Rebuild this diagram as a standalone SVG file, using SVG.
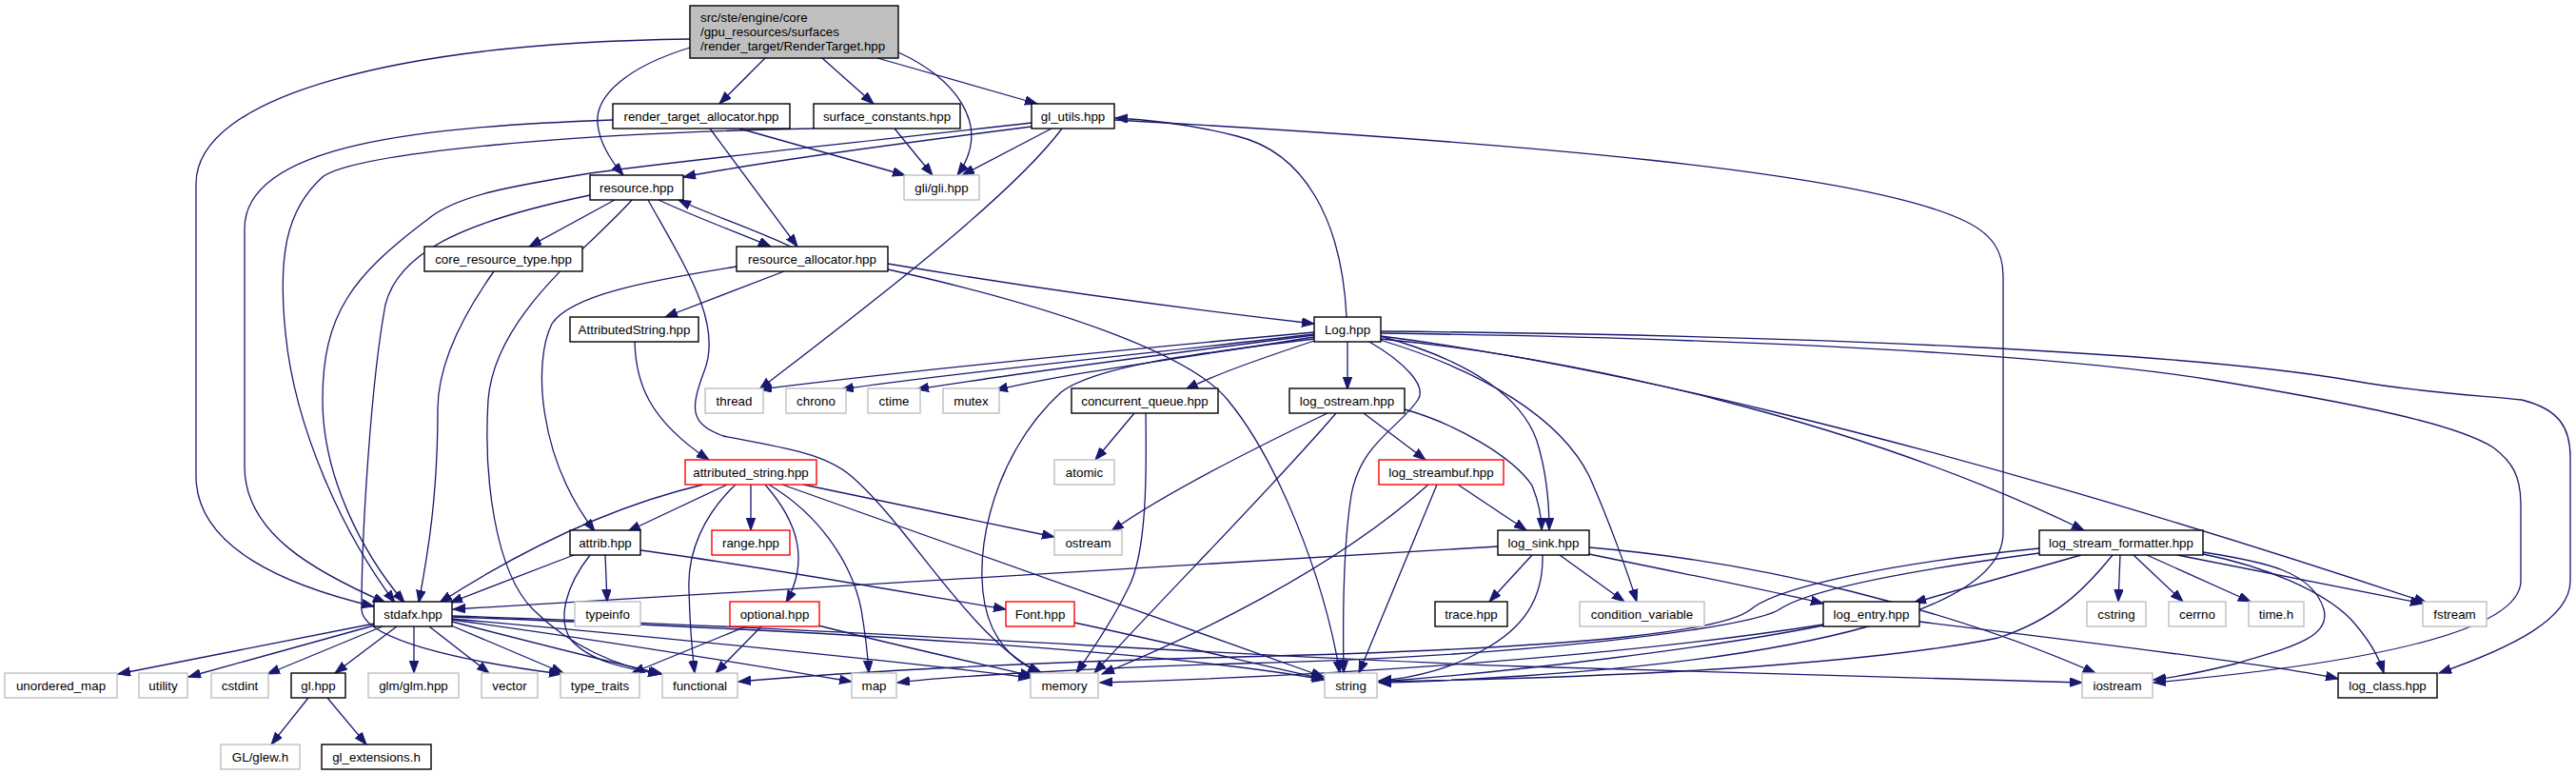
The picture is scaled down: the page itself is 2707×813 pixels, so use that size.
<svg xmlns="http://www.w3.org/2000/svg" width="2707" height="813" viewBox="0 0 2707 813">
<style>
rect{fill:#fff;stroke:#000;stroke-width:1.4}
.g rect{stroke:#bfbfbf}
.r rect{stroke:#ff0000}
.m rect{fill:#bfbfbf}
text{font-family:"Liberation Sans",Arial,sans-serif;font-size:13.33px;fill:#000;text-anchor:middle}
.m text{text-anchor:start}
#edges path{fill:none;stroke:#191970;stroke-width:1.3;marker-end:url(#a)}
</style>
<defs>
<marker id="a" markerWidth="14" markerHeight="10" refX="13" refY="4.75" orient="auto" markerUnits="userSpaceOnUse"><path d="M0,0 L13,4.75 L0,9.5 z" fill="#191970" stroke="#191970" stroke-width="1"/></marker>
</defs>
<rect x="0" y="0" width="2707" height="813" style="fill:#fff;stroke:none"/>
<g id="edges">
<path d="M725,41 C420,45 206,100 206,193 L206,500 C206,575 300,615 393,637"/>
<path d="M804,61 L756,109"/>
<path d="M864,61 L918,109"/>
<path d="M922,61 L1090,109"/>
<path d="M944,55 C1000,80 1045,130 1006,184"/>
<path d="M725,50 C660,70 625,100 628,130 C630,150 643,170 655,184"/>
<path d="M644,126 C450,133 257,150 257,240 L257,490 C257,560 330,600 405,633"/>
<path d="M746,135 L838,259"/>
<path d="M777,135 L951,184"/>
<path d="M940,135 L980,184"/>
<path d="M855,135 C600,140 380,160 340,185 C300,220 292,270 300,350 C310,450 360,560 415,633"/>
<path d="M1084,133 C950,150 800,170 718,186"/>
<path d="M1084,129 C900,150 720,168 620,182 C540,195 480,205 450,230 C370,290 339,330 339,420 C339,500 380,580 425,633"/>
<path d="M1105,135 L1011,184"/>
<path d="M1116,135 C1060,210 900,330 798,409"/>
<path d="M1171,126 C1600,150 1950,180 2060,230 C2095,245 2105,265 2105,290 L2105,560 C2105,640 1900,690 1600,710 C1520,715 1480,717 1449,717"/>
<path d="M1415,333 C1410,230 1370,160 1300,143 C1250,130 1210,126 1172,124"/>
<path d="M692,210 C740,232 780,246 810,259"/>
<path d="M831,259 C790,240 745,225 713,210"/>
<path d="M646,210 L556,259"/>
<path d="M620,205 C500,230 420,260 405,320 C390,400 380,560 380,640 C380,665 450,690 590,708"/>
<path d="M664,210 C620,260 520,330 513,420 C508,500 520,600 560,640 C600,680 650,700 694,708"/>
<path d="M681,210 C720,280 760,340 740,390 C725,430 725,445 760,458 C820,470 870,475 900,505 C960,560 1020,670 1093,707"/>
<path d="M774,280 C680,295 600,310 580,340 C560,380 565,480 625,558"/>
<path d="M824,285 L699,333"/>
<path d="M933,277 C1100,305 1250,325 1381,340"/>
<path d="M933,283 C1100,320 1250,370 1290,420 C1340,480 1390,600 1408,707"/>
<path d="M519,285 C480,340 460,390 460,430 C460,520 450,580 440,633"/>
<path d="M667,359 C668,400 680,440 745,483"/>
<path d="M1381,349 C1150,370 950,390 798,409"/>
<path d="M1381,351 C1200,372 1000,392 884,409"/>
<path d="M1381,352 C1200,375 1050,395 963,409"/>
<path d="M1381,354 C1250,375 1120,392 1046,410"/>
<path d="M1381,358 C1330,375 1280,392 1246,409"/>
<path d="M1381,356 C1250,372 1150,385 1115,412 C1040,480 1015,600 1043,660 C1058,690 1078,700 1095,707"/>
<path d="M1416,359 L1416,409"/>
<path d="M1439,359 C1475,380 1500,405 1490,420 C1470,450 1430,465 1420,520 C1412,570 1411,650 1412,707"/>
<path d="M1450,353 C1550,380 1600,420 1615,463 C1625,495 1628,530 1628,557"/>
<path d="M1450,357 C1560,390 1640,440 1670,500 C1690,545 1710,600 1720,632"/>
<path d="M1451,356 C1650,375 1950,440 2190,557"/>
<path d="M1451,353 C1650,378 2000,450 2550,633"/>
<path d="M1451,350 C1800,355 2150,370 2330,400 C2480,425 2580,445 2620,470 C2640,485 2649,500 2649,530 L2649,610 C2649,650 2560,690 2263,717"/>
<path d="M1451,348 C1900,352 2300,370 2473,400 C2540,412 2600,415 2650,420 C2690,430 2701,450 2701,480 L2701,610 C2701,650 2640,680 2563,707"/>
<path d="M1192,434 L1151,483"/>
<path d="M1204,434 C1205,500 1205,580 1186,617 C1170,650 1150,680 1131,707"/>
<path d="M1433,434 L1498,483"/>
<path d="M1476,430 C1530,445 1590,480 1610,510 C1618,530 1620,545 1620,557"/>
<path d="M1395,434 C1320,470 1220,520 1168,558"/>
<path d="M1404,434 C1330,520 1210,640 1150,707"/>
<path d="M739,509 C650,530 560,570 462,633"/>
<path d="M764,509 L660,558"/>
<path d="M773,509 C740,540 722,580 724,620 C725,660 728,690 730,707"/>
<path d="M789,509 L789,557"/>
<path d="M804,509 C840,550 850,590 826,633"/>
<path d="M808,509 C860,540 895,590 905,640 C910,670 912,690 913,707"/>
<path d="M844,509 L1108,564"/>
<path d="M822,509 L1391,711"/>
<path d="M1532,509 L1604,557"/>
<path d="M1510,509 L1428,707"/>
<path d="M1501,509 C1400,600 1250,670 1158,708"/>
<path d="M603,583 L473,633"/>
<path d="M636,583 L638,632"/>
<path d="M620,583 C595,615 585,650 600,672 C620,695 660,703 694,708"/>
<path d="M673,578 C800,595 950,622 1057,640"/>
<path d="M1574,574 C1300,590 900,612 476,640"/>
<path d="M1610,583 L1565,632"/>
<path d="M1639,583 L1707,632"/>
<path d="M1621,583 C1622,630 1600,660 1560,682 C1530,700 1490,712 1449,715"/>
<path d="M1670,582 C1780,605 1860,620 1916,634"/>
<path d="M1670,575 C1850,590 2050,640 2202,707"/>
<path d="M393,655 L124,708"/>
<path d="M393,657 L198,711"/>
<path d="M402,658 L281,708"/>
<path d="M417,658 L352,707"/>
<path d="M435,658 L435,707"/>
<path d="M451,658 L514,707"/>
<path d="M474,657 L592,707"/>
<path d="M475,653 C560,675 640,695 696,708"/>
<path d="M475,651 C650,675 800,700 895,716"/>
<path d="M475,650 C700,670 950,695 1083,712"/>
<path d="M475,648 C800,660 1200,680 1392,714"/>
<path d="M475,647 C900,660 1300,690 1600,700 C1850,708 2050,713 2188,717"/>
<path d="M324,733 L285,782"/>
<path d="M344,733 L385,782"/>
<path d="M784,658 L664,707"/>
<path d="M800,658 L752,707"/>
<path d="M860,657 C950,680 1020,695 1085,710"/>
<path d="M1129,654 C1250,680 1330,700 1391,713"/>
<path d="M1916,657 C1800,680 1600,705 1449,716"/>
<path d="M1916,656 C1700,690 1400,710 1156,717"/>
<path d="M2187,583 L2011,633"/>
<path d="M2228,583 L2226,632"/>
<path d="M2242,583 L2294,632"/>
<path d="M2256,583 L2365,632"/>
<path d="M2288,583 L2546,634"/>
<path d="M2315,582 C2380,595 2440,620 2470,650 C2490,672 2500,690 2505,707"/>
<path d="M2315,580 C2380,590 2430,600 2442,640 C2450,670 2406,680 2350,697 C2310,707 2280,712 2263,714"/>
<path d="M2143,576 C2000,590 1870,615 1840,640 C1815,660 1700,680 1300,690 C1100,695 900,705 776,716"/>
<path d="M2143,581 C2000,600 1900,620 1870,640 C1840,660 1600,690 1300,697 C1150,702 1000,710 943,717"/>
<path d="M2220,583 C2190,620 2160,650 2100,670 C2000,690 1800,710 1449,716"/>
<path d="M2017,653 C2200,675 2400,700 2457,713"/>
</g>
<g id="main" class="m"><rect x="725" y="6" width="219" height="55"/><text x="736" y="22.5">src/ste/engine/core</text><text x="736" y="37.5">/gpu_resources/surfaces</text><text x="736" y="52.5">/render_target/RenderTarget.hpp</text></g>
<g id="render_target_allocator"><rect x="644" y="109" width="186" height="26"/><text x="737" y="127">render_target_allocator.hpp</text></g>
<g id="surface_constants"><rect x="855" y="109" width="154" height="26"/><text x="932" y="127">surface_constants.hpp</text></g>
<g id="gl_utils"><rect x="1084" y="109" width="87" height="26"/><text x="1127.5" y="127">gl_utils.hpp</text></g>
<g id="resource"><rect x="620" y="184" width="98" height="26"/><text x="669" y="202">resource.hpp</text></g>
<g id="gli" class="g"><rect x="950" y="184" width="79" height="26"/><text x="989.5" y="202">gli/gli.hpp</text></g>
<g id="core_resource_type"><rect x="446" y="259" width="166" height="26"/><text x="529" y="277">core_resource_type.hpp</text></g>
<g id="resource_allocator"><rect x="774" y="259" width="159" height="26"/><text x="853.5" y="277">resource_allocator.hpp</text></g>
<g id="AttributedString"><rect x="599" y="333" width="135" height="26"/><text x="666.5" y="351">AttributedString.hpp</text></g>
<g id="Log"><rect x="1381" y="333" width="70" height="26"/><text x="1416" y="351">Log.hpp</text></g>
<g id="thread" class="g"><rect x="741" y="408" width="61" height="26"/><text x="771.5" y="426">thread</text></g>
<g id="chrono" class="g"><rect x="826" y="408" width="63" height="26"/><text x="857.5" y="426">chrono</text></g>
<g id="ctime" class="g"><rect x="912" y="408" width="55" height="26"/><text x="939.5" y="426">ctime</text></g>
<g id="mutex" class="g"><rect x="991" y="408" width="59" height="26"/><text x="1020.5" y="426">mutex</text></g>
<g id="concurrent_queue"><rect x="1126" y="408" width="154" height="26"/><text x="1203" y="426">concurrent_queue.hpp</text></g>
<g id="log_ostream"><rect x="1355" y="408" width="121" height="26"/><text x="1415.5" y="426">log_ostream.hpp</text></g>
<g id="attributed_string" class="r"><rect x="720" y="483" width="138" height="26"/><text x="789" y="501">attributed_string.hpp</text></g>
<g id="atomic" class="g"><rect x="1108" y="483" width="63" height="26"/><text x="1139.5" y="501">atomic</text></g>
<g id="log_streambuf" class="r"><rect x="1449" y="483" width="131" height="26"/><text x="1514.5" y="501">log_streambuf.hpp</text></g>
<g id="attrib"><rect x="599" y="557" width="74" height="26"/><text x="636" y="575">attrib.hpp</text></g>
<g id="range" class="r"><rect x="748" y="557" width="82" height="26"/><text x="789" y="575">range.hpp</text></g>
<g id="ostream" class="g"><rect x="1108" y="557" width="71" height="26"/><text x="1143.5" y="575">ostream</text></g>
<g id="log_sink"><rect x="1574" y="557" width="96" height="26"/><text x="1622" y="575">log_sink.hpp</text></g>
<g id="log_stream_formatter"><rect x="2143" y="557" width="172" height="26"/><text x="2229" y="575">log_stream_formatter.hpp</text></g>
<g id="stdafx"><rect x="393" y="632" width="82" height="26"/><text x="434" y="650">stdafx.hpp</text></g>
<g id="typeinfo" class="g"><rect x="604" y="632" width="69" height="26"/><text x="638.5" y="650">typeinfo</text></g>
<g id="optional" class="r"><rect x="767" y="632" width="94" height="26"/><text x="814" y="650">optional.hpp</text></g>
<g id="Font" class="r"><rect x="1057" y="632" width="72" height="26"/><text x="1093" y="650">Font.hpp</text></g>
<g id="trace"><rect x="1508" y="632" width="76" height="26"/><text x="1546" y="650">trace.hpp</text></g>
<g id="condition_variable" class="g"><rect x="1660" y="632" width="131" height="26"/><text x="1725.5" y="650">condition_variable</text></g>
<g id="log_entry"><rect x="1916" y="632" width="101" height="26"/><text x="1966.5" y="650">log_entry.hpp</text></g>
<g id="cstring" class="g"><rect x="2193" y="632" width="62" height="26"/><text x="2224" y="650">cstring</text></g>
<g id="cerrno" class="g"><rect x="2279" y="632" width="60" height="26"/><text x="2309" y="650">cerrno</text></g>
<g id="time_h" class="g"><rect x="2363" y="632" width="58" height="26"/><text x="2392" y="650">time.h</text></g>
<g id="fstream" class="g"><rect x="2546" y="632" width="67" height="26"/><text x="2579.5" y="650">fstream</text></g>
<g id="unordered_map" class="g"><rect x="5" y="707" width="118" height="26"/><text x="64" y="725">unordered_map</text></g>
<g id="utility" class="g"><rect x="146" y="707" width="51" height="26"/><text x="171.5" y="725">utility</text></g>
<g id="cstdint" class="g"><rect x="222" y="707" width="60" height="26"/><text x="252" y="725">cstdint</text></g>
<g id="gl"><rect x="306" y="707" width="57" height="26"/><text x="334.5" y="725">gl.hpp</text></g>
<g id="glm" class="g"><rect x="387" y="707" width="95" height="26"/><text x="434.5" y="725">glm/glm.hpp</text></g>
<g id="vector" class="g"><rect x="506" y="707" width="59" height="26"/><text x="535.5" y="725">vector</text></g>
<g id="type_traits" class="g"><rect x="589" y="707" width="83" height="26"/><text x="630.5" y="725">type_traits</text></g>
<g id="functional" class="g"><rect x="696" y="707" width="79" height="26"/><text x="735.5" y="725">functional</text></g>
<g id="map" class="g"><rect x="895" y="707" width="47" height="26"/><text x="918.5" y="725">map</text></g>
<g id="memory" class="g"><rect x="1083" y="707" width="71" height="26"/><text x="1118.5" y="725">memory</text></g>
<g id="string" class="g"><rect x="1392" y="707" width="55" height="26"/><text x="1419.5" y="725">string</text></g>
<g id="iostream" class="g"><rect x="2188" y="707" width="74" height="26"/><text x="2225" y="725">iostream</text></g>
<g id="log_class"><rect x="2457" y="707" width="104" height="26"/><text x="2509" y="725">log_class.hpp</text></g>
<g id="glew" class="g"><rect x="232" y="782" width="83" height="26"/><text x="273.5" y="800">GL/glew.h</text></g>
<g id="gl_extensions"><rect x="338" y="782" width="115" height="26"/><text x="395.5" y="800">gl_extensions.h</text></g>
</svg>
